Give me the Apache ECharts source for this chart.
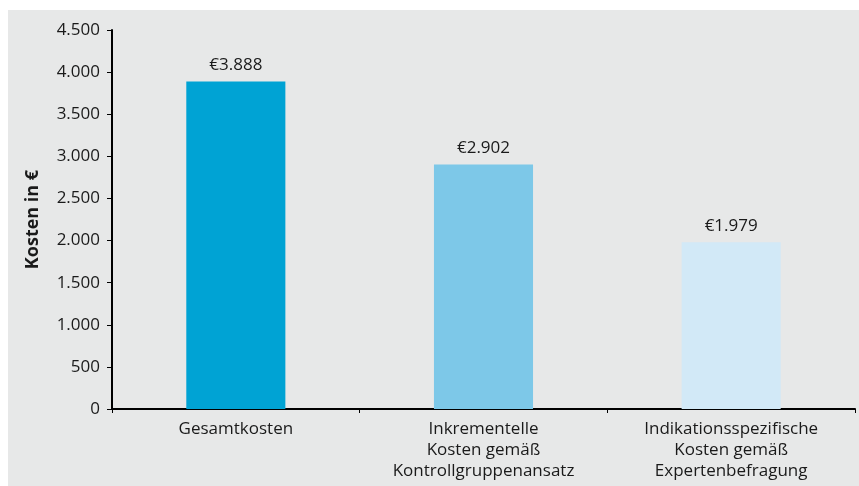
<!DOCTYPE html>
<html>
<head>
<meta charset="utf-8">
<script src="https://cdn.jsdelivr.net/npm/echarts@6/dist/echarts.min.js"></script>
<style>
  html, body { margin: 0; padding: 0; background: #ffffff; }
  #chart { position: absolute; left: 8px; top: 10px; width: 851px; height: 476px; }
</style>
</head>
<body>
<div id="chart"></div>
<script>
var categories = [
  'Gesamtkosten',
  'Inkrementelle\nKosten gemäß\nKontrollgruppenansatz',
  'Indikationsspezifische\nKosten gemäß\nExpertenbefragung'
]
var costs = [3888, 2902, 1979]
var barColors = ['#00a3d4', '#7dc8e8', '#d2e9f7']

// German thousands separator
function fmt (v) {
  var s = String(Math.round(v))
  return s.replace(/\B(?=(\d{3})+(?!\d))/g, '.')
}

var fontFamily = '"Open Sans", "Noto Sans", sans-serif'

var option = {
  backgroundColor: '#e7e8e8',
  animation: false,
  grid: {
    left: 104,
    right: 4,
    top: 20,
    bottom: 77
  },
  xAxis: {
    type: 'category',
    data: categories,
    axisLine: { lineStyle: { color: '#000', width: 2 } },
    axisTick: { show: true, alignWithLabel: false, length: 4, lineStyle: { color: '#000', width: 1 } },
    axisLabel: {
      color: '#1a1a1a',
      fontSize: 17,
      lineHeight: 21,
      margin: 10,
      interval: 0,
      fontFamily: fontFamily
    }
  },
  yAxis: {
    type: 'value',
    min: 0,
    max: 4500,
    interval: 500,
    name: 'Kosten in €',
    nameLocation: 'middle',
    nameGap: 70,
    nameTextStyle: {
      color: '#1a1a1a',
      fontSize: 18,
      fontWeight: 'bold',
      fontFamily: fontFamily
    },
    axisLine: { show: true, lineStyle: { color: '#000', width: 2 } },
    axisTick: { show: true, length: 5, lineStyle: { color: '#000', width: 1 } },
    splitLine: { show: false },
    axisLabel: {
      color: '#1a1a1a',
      fontSize: 17,
      margin: 12,
      fontFamily: fontFamily,
      formatter: fmt
    }
  },
  series: [{
    type: 'bar',
    barWidth: '40%',
    data: costs.map(function (v, i) {
      return { value: v, itemStyle: { color: barColors[i] } }
    }),
    label: {
      show: true,
      position: 'top',
      distance: 8,
      color: '#1a1a1a',
      fontSize: 17,
      fontFamily: fontFamily,
      formatter: function (p) { return '€' + fmt(p.value) }
    }
  }]
}

var myChart = echarts.init(document.getElementById('chart'))
myChart.setOption(option)
</script>
</body>
</html>
